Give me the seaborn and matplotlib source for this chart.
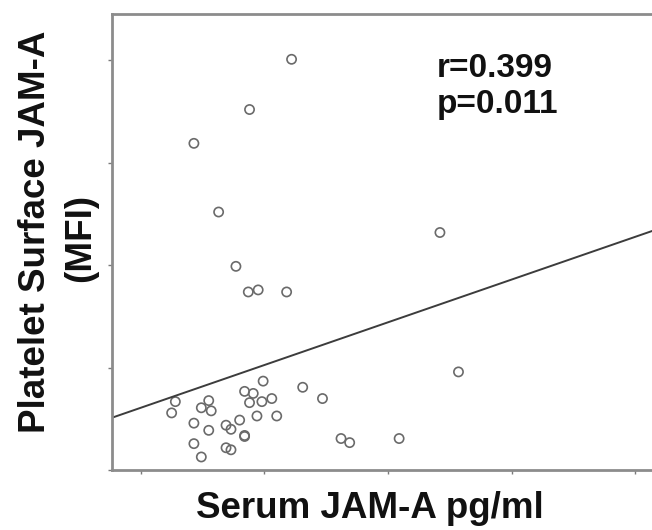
import numpy as np
import pandas as pd
import seaborn as sns
import matplotlib.pyplot as plt

# values, in tick units (ticks unlabeled)
serum_jama = [0.28, 0.25, 0.55, 0.49, 0.57, 0.43, 0.55, 0.43, 0.49, 0.69,
              0.73, 0.69, 0.73, 0.80, 0.84, 0.84, 0.84, 0.91, 0.99, 0.88,
              0.98, 1.06, 0.94, 1.10, 1.31, 1.47, 1.62, 1.69, 2.09, 2.57,
              2.42, 1.22, 0.88, 0.43, 0.63, 0.77, 0.87, 0.95, 1.18]
platelet_jama = [0.67, 0.56, 0.68, 0.61, 0.58, 0.46, 0.39, 0.26, 0.13, 0.44,
                 0.40, 0.22, 0.20, 0.49, 0.34, 0.33, 0.77, 0.75, 0.87, 0.66,
                 0.67, 0.70, 0.53, 0.53, 0.81, 0.70, 0.31, 0.27, 0.31, 0.96,
                 2.32, 4.01, 3.52, 3.19, 2.52, 1.99, 1.74, 1.76, 1.74]
fit_intercept = 0.61
fit_slope = 0.417
r_text = "r=0.399"
p_text = "p=0.011"

df = pd.DataFrame({"serum": serum_jama, "platelet": platelet_jama})

sns.set_style("ticks")
plt.rcParams['font.family'] = ['Liberation Sans', 'DejaVu Sans']

W, H = 652, 530
fig = plt.figure(figsize=(W / 100, H / 100), dpi=100)
ax = fig.add_axes([112.3 / W, (H - 470.3) / H, (660 - 112.3) / W, 456 / H])

sns.scatterplot(data=df, x="serum", y="platelet", ax=ax, marker="o",
                s=44, facecolor="none", edgecolor="#6a6a6a", linewidth=1.2)

xlim = (-0.23, 4.20)
xs = np.array(xlim)
ax.plot(xs, fit_intercept + fit_slope * xs, color="#3c3c3c", lw=1.4)

ax.set_xlim(*xlim)
ax.set_ylim(0, 4.449)
ax.set_xticks([0, 1, 2, 3, 4])
ax.set_yticks([0, 1, 2, 3, 4])
ax.set_xticklabels([])
ax.set_yticklabels([])
ax.set_xlabel("")
ax.set_ylabel("")
ax.tick_params(length=3, width=1, color="#7a7a7a")
for side in ["left", "bottom", "top"]:
    ax.spines[side].set_visible(True)
    ax.spines[side].set_color("#8c8c8c")
    ax.spines[side].set_linewidth(2)
ax.spines["right"].set_visible(False)

fig.text(437 / W, (H - 76.7) / H, r_text, fontsize=24, fontweight="bold",
         va="baseline", ha="left", color="#111111")
fig.text(437 / W, (H - 113) / H, p_text, fontsize=24, fontweight="bold",
         va="baseline", ha="left", color="#111111")

fig.text(370 / W, (H - 518) / H, "Serum JAM-A pg/ml", fontsize=26.5,
         fontweight="bold", ha="center", va="baseline", color="#111111")
fig.text(45 / W, (H - 232) / H, "Platelet Surface JAM-A", fontsize=26.5,
         fontweight="bold", rotation=90, rotation_mode="anchor",
         ha="center", va="baseline", color="#111111")
fig.text(90 / W, (H - 238) / H, "(MFI)", fontsize=26.5,
         fontweight="bold", rotation=90, rotation_mode="anchor",
         ha="center", va="baseline", color="#111111")

fig.savefig("out.png", dpi=100)
